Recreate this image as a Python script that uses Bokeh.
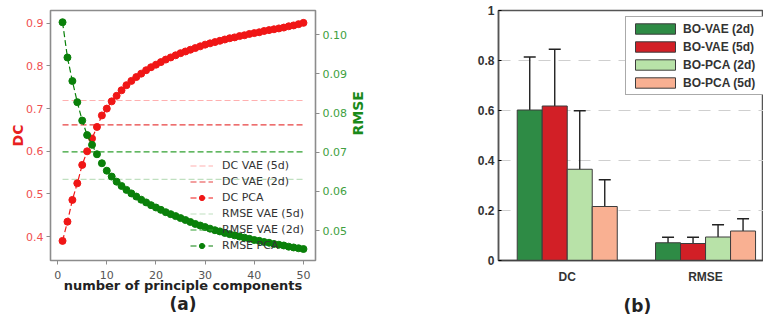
import math
from bokeh.plotting import figure
from bokeh.models import (Range1d, LinearAxis, FixedTicker, Legend, LegendItem, Title,
                          Whisker, TeeHead, ColumnDataSource, PrintfTickFormatter)
from bokeh.layouts import row
from bokeh.embed import file_html
from bokeh.resources import INLINE

# ---------------- data: panel (a) ----------------
n_components = list(range(1, 51))
dc_pca = [0.390, 0.435, 0.486, 0.525, 0.568, 0.600, 0.630, 0.657, 0.684, 0.700,
          0.717, 0.730, 0.743, 0.755, 0.765, 0.774, 0.782, 0.790, 0.797, 0.803,
          0.809, 0.815, 0.820, 0.825, 0.830, 0.834, 0.838, 0.842, 0.846, 0.850,
          0.853, 0.856, 0.859, 0.862, 0.865, 0.867, 0.870, 0.872, 0.875, 0.877,
          0.879, 0.882, 0.884, 0.886, 0.888, 0.890, 0.893, 0.895, 0.898, 0.901]
rmse_pca = [0.1032, 0.0942, 0.0882, 0.0828, 0.0781, 0.0744, 0.0719, 0.0695, 0.0672, 0.0653,
            0.0638, 0.0625, 0.0614, 0.0604, 0.0595, 0.0587, 0.0579, 0.0572, 0.0565, 0.0559,
            0.0553, 0.0547, 0.0542, 0.0537, 0.0532, 0.0527, 0.0522, 0.0517, 0.0513, 0.0509,
            0.0505, 0.0501, 0.0498, 0.0494, 0.0491, 0.0488, 0.0485, 0.0482, 0.0479, 0.0476,
            0.0474, 0.0471, 0.0469, 0.0466, 0.0464, 0.0462, 0.0459, 0.0457, 0.0455, 0.0453]
dc_vae_5d = 0.719
dc_vae_2d = 0.662
rmse_vae_5d = 0.0631
rmse_vae_2d = 0.0701
x_ticks = [0, 10, 20, 30, 40, 50]
dc_ticks = [0.4, 0.5, 0.6, 0.7, 0.8, 0.9]
rmse_ticks = [0.05, 0.06, 0.07, 0.08, 0.09, 0.10]

# ---------------- data: panel (b) ----------------
metrics = ["DC", "RMSE"]
series_names = ["BO-VAE (2d)", "BO-VAE (5d)", "BO-PCA (2d)", "BO-PCA (5d)"]
vae2d_mean = [0.602, 0.071]
vae2d_lo = [0.393, 0.050]
vae2d_hi = [0.814, 0.093]
vae5d_mean = [0.618, 0.068]
vae5d_lo = [0.393, 0.047]
vae5d_hi = [0.845, 0.093]
pca2d_mean = [0.365, 0.094]
pca2d_lo = [0.137, 0.050]
pca2d_hi = [0.599, 0.143]
pca5d_mean = [0.216, 0.118]
pca5d_lo = [0.108, 0.068]
pca5d_hi = [0.323, 0.167]
bar_y_ticks = [0, 0.2, 0.4, 0.6, 0.8, 1]
bar_y_labels = ["0", "0.2", "0.4", "0.6", "0.8", "1"]

# ================= panel (a) =================
FONT_A = "DejaVu Sans"
RED = "#f01616"
GREEN = "#0a800a"

W1 = 376
p1 = figure(width=W1, height=320, x_range=Range1d(-1.45, 52.45),
            y_range=Range1d(0.344, 0.930), output_backend="svg",
            toolbar_location=None, min_border_left=50, min_border_right=61,
            min_border_top=9, min_border_bottom=60)
p1.extra_y_ranges = {"rmse": Range1d(0.04237, 0.1062)}
p1.grid.visible = False
p1.outline_line_color = "#8c8c8c"
p1.outline_line_width = 1.6

xa = p1.xaxis[0]
xa.ticker = FixedTicker(ticks=x_ticks)
xa.axis_label = "number of principle components"
xa.axis_label_text_font = FONT_A
xa.axis_label_text_font_style = "bold"
xa.axis_label_text_font_size = "13px"
xa.axis_label_text_color = "#222222"
xa.axis_label_standoff = -4
xa.major_label_text_font = FONT_A
xa.major_label_text_font_size = "11px"
xa.major_label_text_color = "#555555"
xa.major_label_standoff = 6
xa.axis_line_color = None
xa.major_tick_line_color = "#8c8c8c"
xa.major_tick_out = 4
xa.major_tick_in = 0
xa.minor_tick_line_color = None

ya = p1.yaxis[0]
ya.ticker = FixedTicker(ticks=dc_ticks)
ya.formatter = PrintfTickFormatter(format="%.1f")
ya.axis_label = "DC"
ya.axis_label_text_font = FONT_A
ya.axis_label_text_font_style = "bold"
ya.axis_label_text_font_size = "14px"
ya.axis_label_text_color = "#e82020"
ya.axis_label_standoff = -3
ya.major_label_text_font = FONT_A
ya.major_label_text_font_size = "11px"
ya.major_label_text_color = "#f05050"
ya.major_label_standoff = 3
ya.axis_line_color = None
ya.major_tick_line_color = "#8c8c8c"
ya.major_tick_out = 4
ya.major_tick_in = 0
ya.minor_tick_line_color = None

ra = LinearAxis(y_range_name="rmse", ticker=FixedTicker(ticks=rmse_ticks),
                formatter=PrintfTickFormatter(format="%.2f"), axis_label="RMSE")
ra.axis_label_orientation = math.pi / 2
ra.axis_label_text_font = FONT_A
ra.axis_label_text_font_style = "bold"
ra.axis_label_text_font_size = "14px"
ra.axis_label_text_color = "#1a8a1a"
ra.axis_label_standoff = 8
ra.major_label_text_font = FONT_A
ra.major_label_text_font_size = "11px"
ra.major_label_text_color = "#40a040"
ra.major_label_standoff = 3
ra.axis_line_color = None
ra.major_tick_line_color = "#8c8c8c"
ra.major_tick_out = 4
ra.major_tick_in = 0
ra.minor_tick_line_color = None
p1.add_layout(ra, "right")

xs_ends = [n_components[0], n_components[-1]]
r_dc5 = p1.line(xs_ends, [dc_vae_5d, dc_vae_5d], line_color="#ffb0b0",
                line_width=1.2, line_dash="6 3")
r_dc2 = p1.line(xs_ends, [dc_vae_2d, dc_vae_2d], line_color="#e84040",
                line_width=1.2, line_dash="6 3")
r_rm5 = p1.line(xs_ends, [rmse_vae_5d, rmse_vae_5d], line_color="#c0e0c0",
                line_width=1.2, line_dash="6 3", y_range_name="rmse")
r_rm2 = p1.line(xs_ends, [rmse_vae_2d, rmse_vae_2d], line_color="#30a030",
                line_width=1.2, line_dash="6 3", y_range_name="rmse")
r_dcl = p1.line(n_components, dc_pca, line_color=RED, line_width=1.2, line_dash="6 3")
r_dcm = p1.scatter(n_components, dc_pca, size=7, fill_color=RED, line_color=RED)
r_rml = p1.line(n_components, rmse_pca, line_color=GREEN, line_width=1.2,
                line_dash="6 3", y_range_name="rmse")
r_rmm = p1.scatter(n_components, rmse_pca, size=7, fill_color=GREEN, line_color=GREEN,
                   y_range_name="rmse")

leg1 = Legend(items=[
    LegendItem(label="DC VAE (5d)", renderers=[r_dc5]),
    LegendItem(label="DC VAE (2d)", renderers=[r_dc2]),
    LegendItem(label="DC PCA", renderers=[r_dcl, r_dcm]),
    LegendItem(label="RMSE VAE (5d)", renderers=[r_rm5]),
    LegendItem(label="RMSE VAE (2d)", renderers=[r_rm2]),
    LegendItem(label="RMSE PCA", renderers=[r_rml, r_rmm]),
], location=(136, 4), background_fill_alpha=0, border_line_alpha=0,
    label_text_font=FONT_A, label_text_font_size="11px", label_text_color="#333333",
    glyph_width=23, glyph_height=13, label_height=13, spacing=3, padding=4,
    label_standoff=9, margin=0)
p1.add_layout(leg1)

p1.add_layout(Title(text="(a)", align="center", text_font=FONT_A,
                    text_font_size="17px", text_font_style="bold",
                    text_color="#222222", standoff=-7), "below")

# ================= panel (b) =================
FONT_B = "Liberation Sans"
bar_colors = ["#2e8b45", "#d21f26", "#b8e2a8", "#f9b092"]
means = [vae2d_mean, vae5d_mean, pca2d_mean, pca5d_mean]
lows = [vae2d_lo, vae5d_lo, pca2d_lo, pca5d_lo]
highs = [vae2d_hi, vae5d_hi, pca2d_hi, pca5d_hi]

L2 = 498 - W1
p2 = figure(width=763 - W1, height=320, x_range=Range1d(0.503, 2.419), y_range=Range1d(0, 1),
            output_backend="svg", toolbar_location=None, min_border_left=L2,
            min_border_right=0, min_border_top=10, min_border_bottom=59)
FH2 = 320 - 10 - 59
p2.xgrid.visible = False
p2.ygrid.ticker = FixedTicker(ticks=bar_y_ticks[1:-1])
p2.ygrid.grid_line_color = "#cfcfcf"
p2.ygrid.grid_line_dash = "12 8"
p2.ygrid.grid_line_width = 1
p2.outline_line_color = "#555555"
p2.outline_line_width = 1.5

bar_w = 0.1808
leg2_items = []
for i, name in enumerate(series_names):
    xs = [g + 1 + (i - 1.5) * bar_w for g in range(len(metrics))]
    src = ColumnDataSource(dict(x=xs, top=means[i], lo=lows[i], hi=highs[i]))
    r = p2.vbar(x="x", top="top", bottom=0, width=bar_w, source=src,
                fill_color=bar_colors[i], line_color="#3c3c3c", line_width=1)
    leg2_items.append(LegendItem(label=name, renderers=[r]))
    w = Whisker(base="x", upper="hi", lower="lo", source=src, line_color="#222222",
                line_width=1.4,
                upper_head=TeeHead(size=12, line_color="#222222", line_width=1.4),
                lower_head=TeeHead(size=12, line_color="#222222", line_width=1.4))
    p2.add_layout(w)

bx = p2.xaxis[0]
bx.ticker = FixedTicker(ticks=[1, 2])
bx.major_label_overrides = {1: metrics[0], 2: metrics[1]}
bx.major_label_text_font = FONT_B
bx.major_label_text_font_style = "bold"
bx.major_label_text_font_size = "12px"
bx.major_label_text_color = "#333333"
bx.major_label_standoff = 9
bx.major_tick_in = 0
bx.major_tick_out = 0
bx.minor_tick_line_color = None
bx.axis_line_color = "#444444"
bx.axis_line_width = 1.5
# blank spacer label keeps the panel tag a little lower
bx.axis_label = " "
bx.axis_label_text_font = FONT_A
bx.axis_label_text_font_size = "8px"
bx.axis_label_standoff = 0

by = p2.yaxis[0]
by.ticker = FixedTicker(ticks=bar_y_ticks)
by.major_label_overrides = {t: l for t, l in zip(bar_y_ticks, bar_y_labels)}
by.major_label_text_font = FONT_B
by.major_label_text_font_style = "bold"
by.major_label_text_font_size = "12px"
by.major_label_text_color = "#333333"
by.major_label_standoff = 4
by.major_tick_in = 3
by.major_tick_out = 0
by.minor_tick_line_color = None
by.axis_line_color = "#555555"
by.axis_line_width = 1.5

leg2 = Legend(items=leg2_items, location=(127, FH2 - 86), background_fill_color="white",
              background_fill_alpha=1, border_line_color="#555555", border_line_width=1.5,
              label_text_font=FONT_B, label_text_font_style="bold",
              label_text_font_size="12px", label_text_color="#333333",
              glyph_width=50, glyph_height=13, label_height=15, label_width=82,
              spacing=3, padding=4, label_standoff=3, margin=0)
p2.add_layout(leg2)

p2.add_layout(Title(text="(b)", align="left", text_font=FONT_A,
                    text_font_size="17px", text_font_style="bold", offset=125,
                    text_color="#222222", standoff=-10), "below")

layout = row(p1, p2)
open("out.html", "w").write(file_html(layout, INLINE))
